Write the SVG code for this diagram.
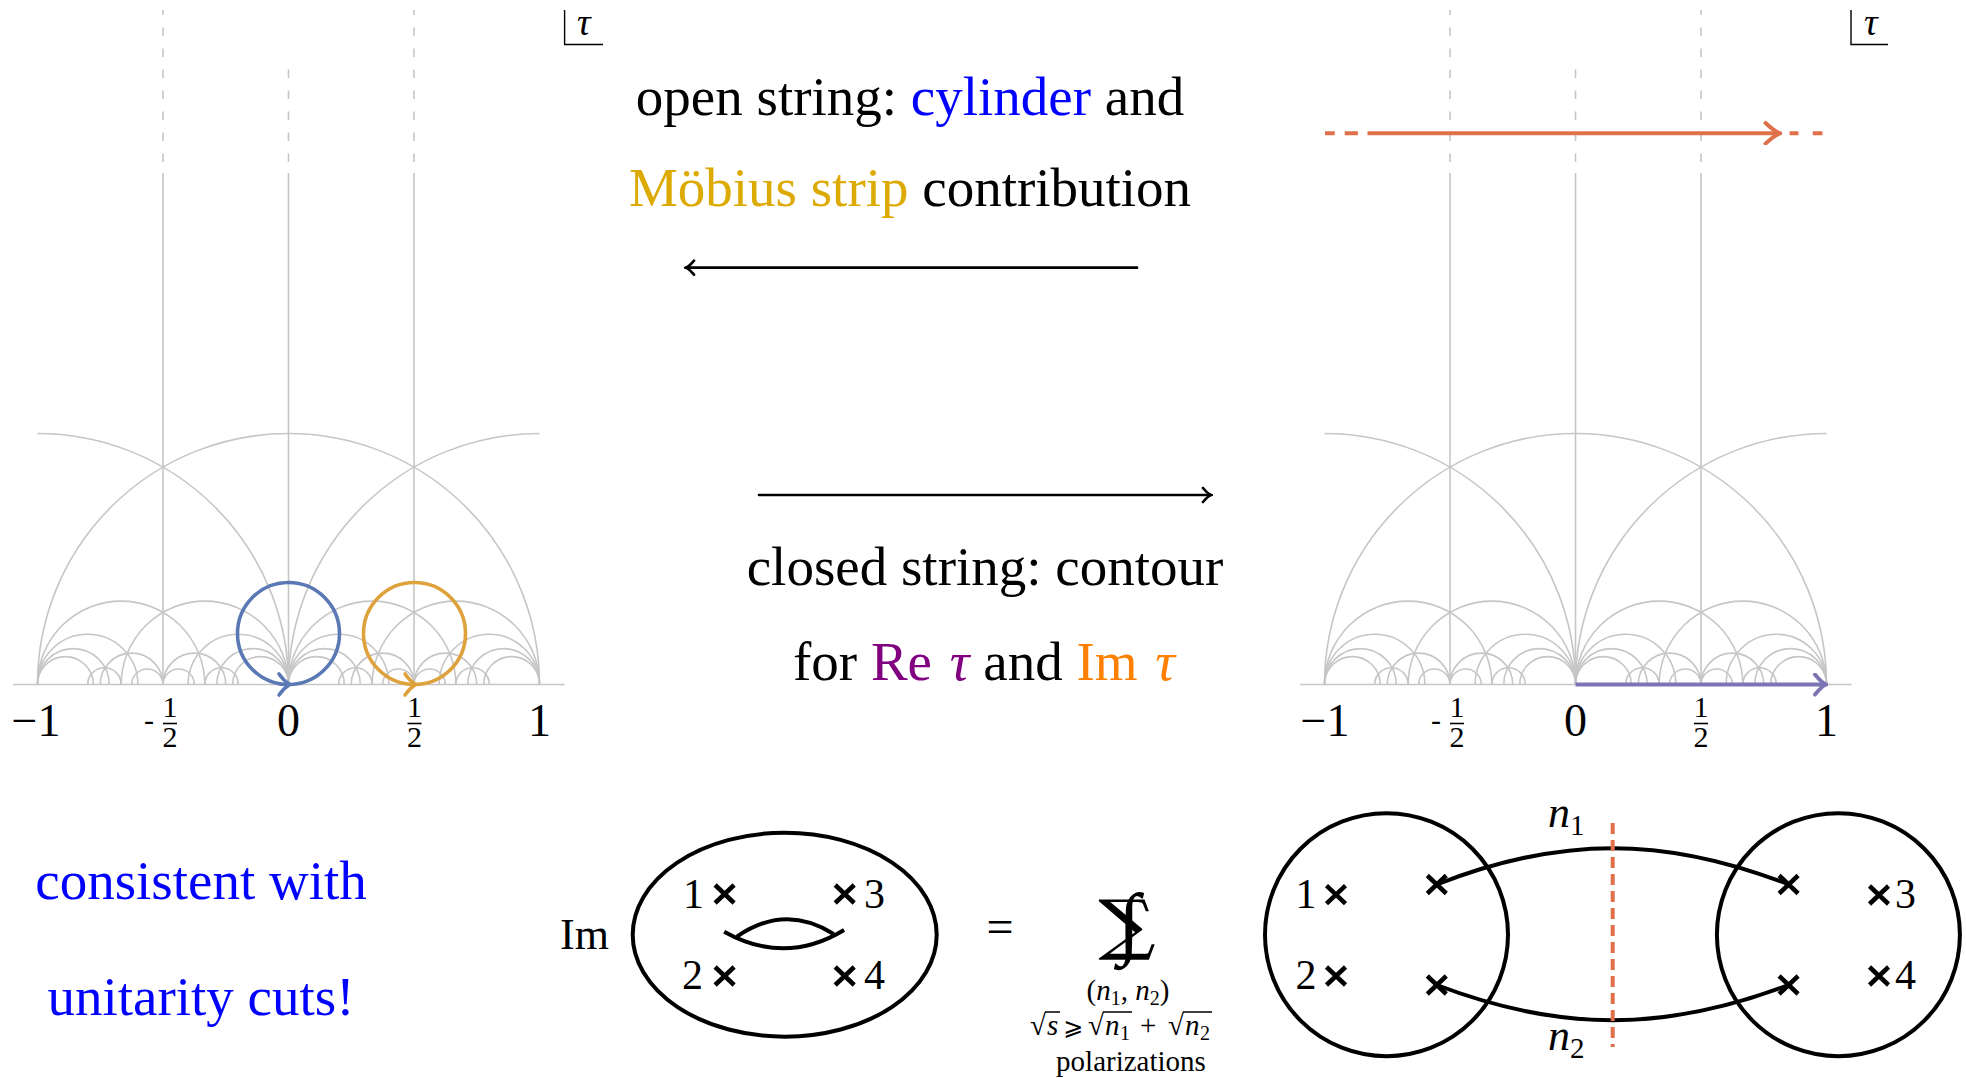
<svg xmlns="http://www.w3.org/2000/svg" width="1966" height="1078" viewBox="0 0 1966 1078">
<style>
.t{font-family:"Liberation Serif","Times New Roman",serif;fill:#000}
.it{font-style:italic}
.g{stroke:#c6c6c6;stroke-width:1.6;fill:none}
.gd{stroke:#c6c6c6;stroke-width:1.6;fill:none;stroke-dasharray:8.5 12.5}
.k{stroke:#000;fill:none;stroke-width:4}
.ar{stroke:#000;fill:none;stroke-width:2.7;stroke-linecap:round}
.cr{stroke:#000;stroke-width:4.5;fill:none}
.fb{stroke:#000;stroke-width:1.6}
</style>
<defs>
<g id="half" class="g">
<path d="M0,0 A83.667,83.667 0 0 1 167.333,0"/>
<path d="M0,0 A50.2,50.2 0 0 1 100.4,0"/>
<path d="M0,0 A35.857,35.857 0 0 1 71.714,0"/>
<path d="M0,0 A27.889,27.889 0 0 1 55.778,0"/>
<path d="M83.667,0 A83.667,83.667 0 0 1 251,0"/>
<path d="M150.6,0 A50.2,50.2 0 0 1 251,0"/>
<path d="M179.286,0 A35.857,35.857 0 0 1 251,0"/>
<path d="M195.222,0 A27.889,27.889 0 0 1 251,0"/>
<path d="M62.75,0 A31.375,31.375 0 0 1 125.5,0"/>
<path d="M125.5,0 A31.375,31.375 0 0 1 188.25,0"/>
<path d="M94.125,0 A15.688,15.688 0 0 1 125.5,0"/>
<path d="M125.5,0 A15.688,15.688 0 0 1 156.875,0"/>
<path d="M50.2,0 A16.733,16.733 0 0 1 83.667,0"/>
<path d="M167.333,0 A16.733,16.733 0 0 1 200.8,0"/>
<path d="M0,0 A251,251 0 0 1 251,-251"/>
<path d="M125.5,0 V-511.5"/>
<path class="gd" d="M125.5,-522.5 V-674.5"/>
</g>
<g id="plane">
<path class="g" d="M-275.5,0 H276"/>
<path class="g" d="M-251,0 A251,251 0 0 1 251,0"/>
<path class="g" d="M0,0 V-511.5"/>
<path class="gd" d="M0,-522.5 V-616.5"/>
<use href="#half"/>
<use href="#half" transform="scale(-1,1)"/>
</g>
<g id="half-frac">
<path class="fb" d="M-7,0 H7"/>
</g>
<path id="x" d="M-9.5,-9 L9.5,9 M-9.5,9 L9.5,-9"/>
<marker id="headK" viewBox="-12 -10 14 20" markerWidth="14" markerHeight="20" markerUnits="userSpaceOnUse" refX="0" refY="0" orient="auto">
<path d="M-8,-7 Q-3,-1 0,0 Q-3,1 -8,7" fill="none" stroke="#000" stroke-width="2.7" stroke-linecap="round"/>
</marker>
<marker id="headO" viewBox="-17 -12 19 24" markerWidth="19" markerHeight="24" markerUnits="userSpaceOnUse" refX="0" refY="0" orient="auto">
<path d="M-14.5,-10.3 Q-5,-1.5 0,0 Q-5,1.5 -14.5,10.3" fill="none" stroke="#e0704a" stroke-width="4" stroke-linecap="round"/>
</marker>
<marker id="headP" viewBox="-14 -12 16 24" markerWidth="16" markerHeight="24" markerUnits="userSpaceOnUse" refX="0" refY="0" orient="auto">
<path d="M-11,-10 Q-4,-1.5 0,0 Q-4,1.5 -11,10" fill="none" stroke="#7c74b4" stroke-width="4" stroke-linecap="round"/>
</marker>
</defs>

<g id="plot-left">
<use href="#plane" transform="translate(288.5,684.5)"/>
<circle cx="288.5" cy="633.5" r="51" fill="none" stroke="#5a78b4" stroke-width="3.6"/>
<path d="M279,674 Q284,681 289.5,684.5 Q284,688 279,695" fill="none" stroke="#5a78b4" stroke-width="3.6" stroke-linecap="round"/>
<circle cx="414.5" cy="633.5" r="51" fill="none" stroke="#dea23c" stroke-width="3.6"/>
<path d="M405,674 Q410,681 415.5,684.5 Q410,688 405,695" fill="none" stroke="#dea23c" stroke-width="3.6" stroke-linecap="round"/>
<path d="M564.6,10 V44.5 H603" stroke="#000" stroke-width="1.4" fill="none"/>
<text class="t it" x="577" y="35" font-size="38">τ</text>
<text class="t" x="36" y="736" font-size="46" text-anchor="middle">−1</text>
<text class="t" x="149" y="730" font-size="30" text-anchor="middle">-</text>
<text class="t" x="170" y="717" font-size="30" text-anchor="middle">1</text>
<use href="#half-frac" x="170" y="723.5"/>
<text class="t" x="170" y="747" font-size="30" text-anchor="middle">2</text>
<text class="t" x="288.5" y="736" font-size="46" text-anchor="middle">0</text>
<text class="t" x="414.5" y="717" font-size="30" text-anchor="middle">1</text>
<use href="#half-frac" x="414.5" y="723.5"/>
<text class="t" x="414.5" y="747" font-size="30" text-anchor="middle">2</text>
<text class="t" x="539.5" y="736" font-size="46" text-anchor="middle">1</text>
</g>

<g id="plot-right">
<use href="#plane" transform="translate(1575.5,684.5)"/>
<path d="M1325,133.3 H1334.7 M1344.7,133.3 H1357.9 M1789.6,133.3 H1798.4 M1812.8,133.3 H1822.4" stroke="#e0704a" stroke-width="4" fill="none"/>
<path d="M1367.5,133.3 H1780" stroke="#e0704a" stroke-width="4" fill="none" marker-end="url(#headO)"/>
<path d="M1575.5,684.5 H1826" stroke="#7c74b4" stroke-width="4" fill="none" marker-end="url(#headP)"/>
<path d="M1851,10 V44.5 H1888" stroke="#000" stroke-width="1.4" fill="none"/>
<text class="t it" x="1864" y="35" font-size="38">τ</text>
<text class="t" x="1325" y="736" font-size="46" text-anchor="middle">−1</text>
<text class="t" x="1436" y="730" font-size="30" text-anchor="middle">-</text>
<text class="t" x="1457" y="717" font-size="30" text-anchor="middle">1</text>
<use href="#half-frac" x="1457" y="723.5"/>
<text class="t" x="1457" y="747" font-size="30" text-anchor="middle">2</text>
<text class="t" x="1575.5" y="736" font-size="46" text-anchor="middle">0</text>
<text class="t" x="1701" y="717" font-size="30" text-anchor="middle">1</text>
<use href="#half-frac" x="1701" y="723.5"/>
<text class="t" x="1701" y="747" font-size="30" text-anchor="middle">2</text>
<text class="t" x="1826.5" y="736" font-size="46" text-anchor="middle">1</text>
</g>

<g id="label-open">
<text class="t" x="910" y="115" font-size="55" text-anchor="middle">open string: <tspan fill="#0000ff">cylinder</tspan> and</text>
<text class="t" x="910" y="206" font-size="55" text-anchor="middle"><tspan fill="#dcaa00">Möbius strip</tspan> contribution</text>
</g>

<g id="label-closed">
<text class="t" x="985" y="585" font-size="55" text-anchor="middle">closed string: contour</text>
<text class="t" x="984" y="680" font-size="55" text-anchor="middle">for <tspan fill="#800080">Re<tspan class="it" dx="4"> τ</tspan></tspan> and <tspan fill="#ff8000">Im<tspan class="it" dx="4"> τ</tspan></tspan></text>
</g>

<g id="label-unitarity">
<text class="t" x="201" y="899" font-size="55" text-anchor="middle" style="fill:#0000ff">consistent with</text>
<text class="t" x="201" y="1015" font-size="55" text-anchor="middle" style="fill:#0000ff">unitarity cuts!</text>
</g>

<g id="torus">
<text class="t" x="560" y="949" font-size="44">Im</text>
<ellipse cx="784.7" cy="934.7" rx="152" ry="102" class="k"/>
<path class="k" d="M724.2,931.7 Q785,965.8 844.1,930"/>
<path class="k" d="M736.8,936.7 Q785,903.3 833.6,934"/>
<use href="#x" class="cr" x="724.6" y="894"/>
<use href="#x" class="cr" x="724.6" y="976"/>
<use href="#x" class="cr" x="844.7" y="894"/>
<use href="#x" class="cr" x="844.7" y="976"/>
<text class="t" x="693.5" y="908" font-size="42" text-anchor="middle">1</text>
<text class="t" x="692.5" y="989" font-size="42" text-anchor="middle">2</text>
<text class="t" x="874.5" y="908" font-size="42" text-anchor="middle">3</text>
<text class="t" x="874.5" y="989" font-size="42" text-anchor="middle">4</text>
</g>

<g id="sum">
<text class="t" x="1000" y="943" font-size="48" text-anchor="middle">=</text>
<text x="0" y="0" font-size="66" text-anchor="middle" transform="translate(1127,947) scale(1.22,1)" style="font-family:'DejaVu Serif',serif">∑</text>
<text class="t" x="1129" y="949" font-size="80" text-anchor="middle">∫</text>
<text class="t" x="1128" y="1000" font-size="29" text-anchor="middle">(<tspan class="it">n</tspan><tspan font-size="20" dy="5">1</tspan><tspan dy="-5">, </tspan><tspan class="it">n</tspan><tspan font-size="20" dy="5">2</tspan><tspan dy="-5">)</tspan></text>
<text class="t" font-size="29" y="1035"><tspan x="1030">√</tspan><tspan x="1047" class="it">s</tspan><tspan x="1063" style="font-family:'DejaVu Sans',sans-serif" font-size="24">⩾</tspan><tspan x="1088">√</tspan><tspan x="1105" class="it">n</tspan><tspan x="1120" font-size="20" dy="5">1</tspan><tspan x="1140" dy="-5">+</tspan><tspan x="1168">√</tspan><tspan x="1185" class="it">n</tspan><tspan x="1200" font-size="20" dy="5">2</tspan></text>
<path d="M1045,1012 H1060 M1103,1012 H1132 M1183,1012 H1212" stroke="#000" stroke-width="1.5"/>
<text class="t" x="1131" y="1071" font-size="29" text-anchor="middle">polarizations</text>
</g>

<g id="cut-left">
<circle cx="1386.5" cy="934.7" r="121.5" class="k"/>
<use href="#x" class="cr" x="1336" y="894.7"/>
<use href="#x" class="cr" x="1336" y="976"/>
<use href="#x" class="cr" x="1436.8" y="884.5"/>
<use href="#x" class="cr" x="1436.8" y="985"/>
<text class="t" x="1306" y="908" font-size="42" text-anchor="middle">1</text>
<text class="t" x="1306" y="989" font-size="42" text-anchor="middle">2</text>
</g>

<g id="cut-right">
<circle cx="1838.4" cy="934.7" r="121.5" class="k"/>
<use href="#x" class="cr" x="1788.6" y="884.5"/>
<use href="#x" class="cr" x="1788.6" y="985"/>
<use href="#x" class="cr" x="1879" y="895"/>
<use href="#x" class="cr" x="1879" y="976"/>
<text class="t" x="1905.5" y="908" font-size="42" text-anchor="middle">3</text>
<text class="t" x="1905.5" y="989" font-size="42" text-anchor="middle">4</text>
</g>

<g id="cut-labels">
<text class="t it" x="1548" y="827" font-size="44">n<tspan font-size="29" font-style="normal" dy="8">1</tspan></text>
<text class="t it" x="1548" y="1050" font-size="44">n<tspan font-size="29" font-style="normal" dy="8">2</tspan></text>
</g>

<g id="connectors">
<path class="ar" d="M1137,267.7 H686" marker-end="url(#headK)"/>
<path class="ar" d="M759,495 H1211" marker-end="url(#headK)"/>
<path class="k" d="M1436.8,884.5 C1560,836 1665,836 1788.6,884.5"/>
<path class="k" d="M1436.8,985 C1560,1032 1665,1032 1788.6,985"/>
<path d="M1612.7,823 V1047" stroke="#e0704a" stroke-width="4" stroke-dasharray="11 6" fill="none"/>
</g>
</svg>
